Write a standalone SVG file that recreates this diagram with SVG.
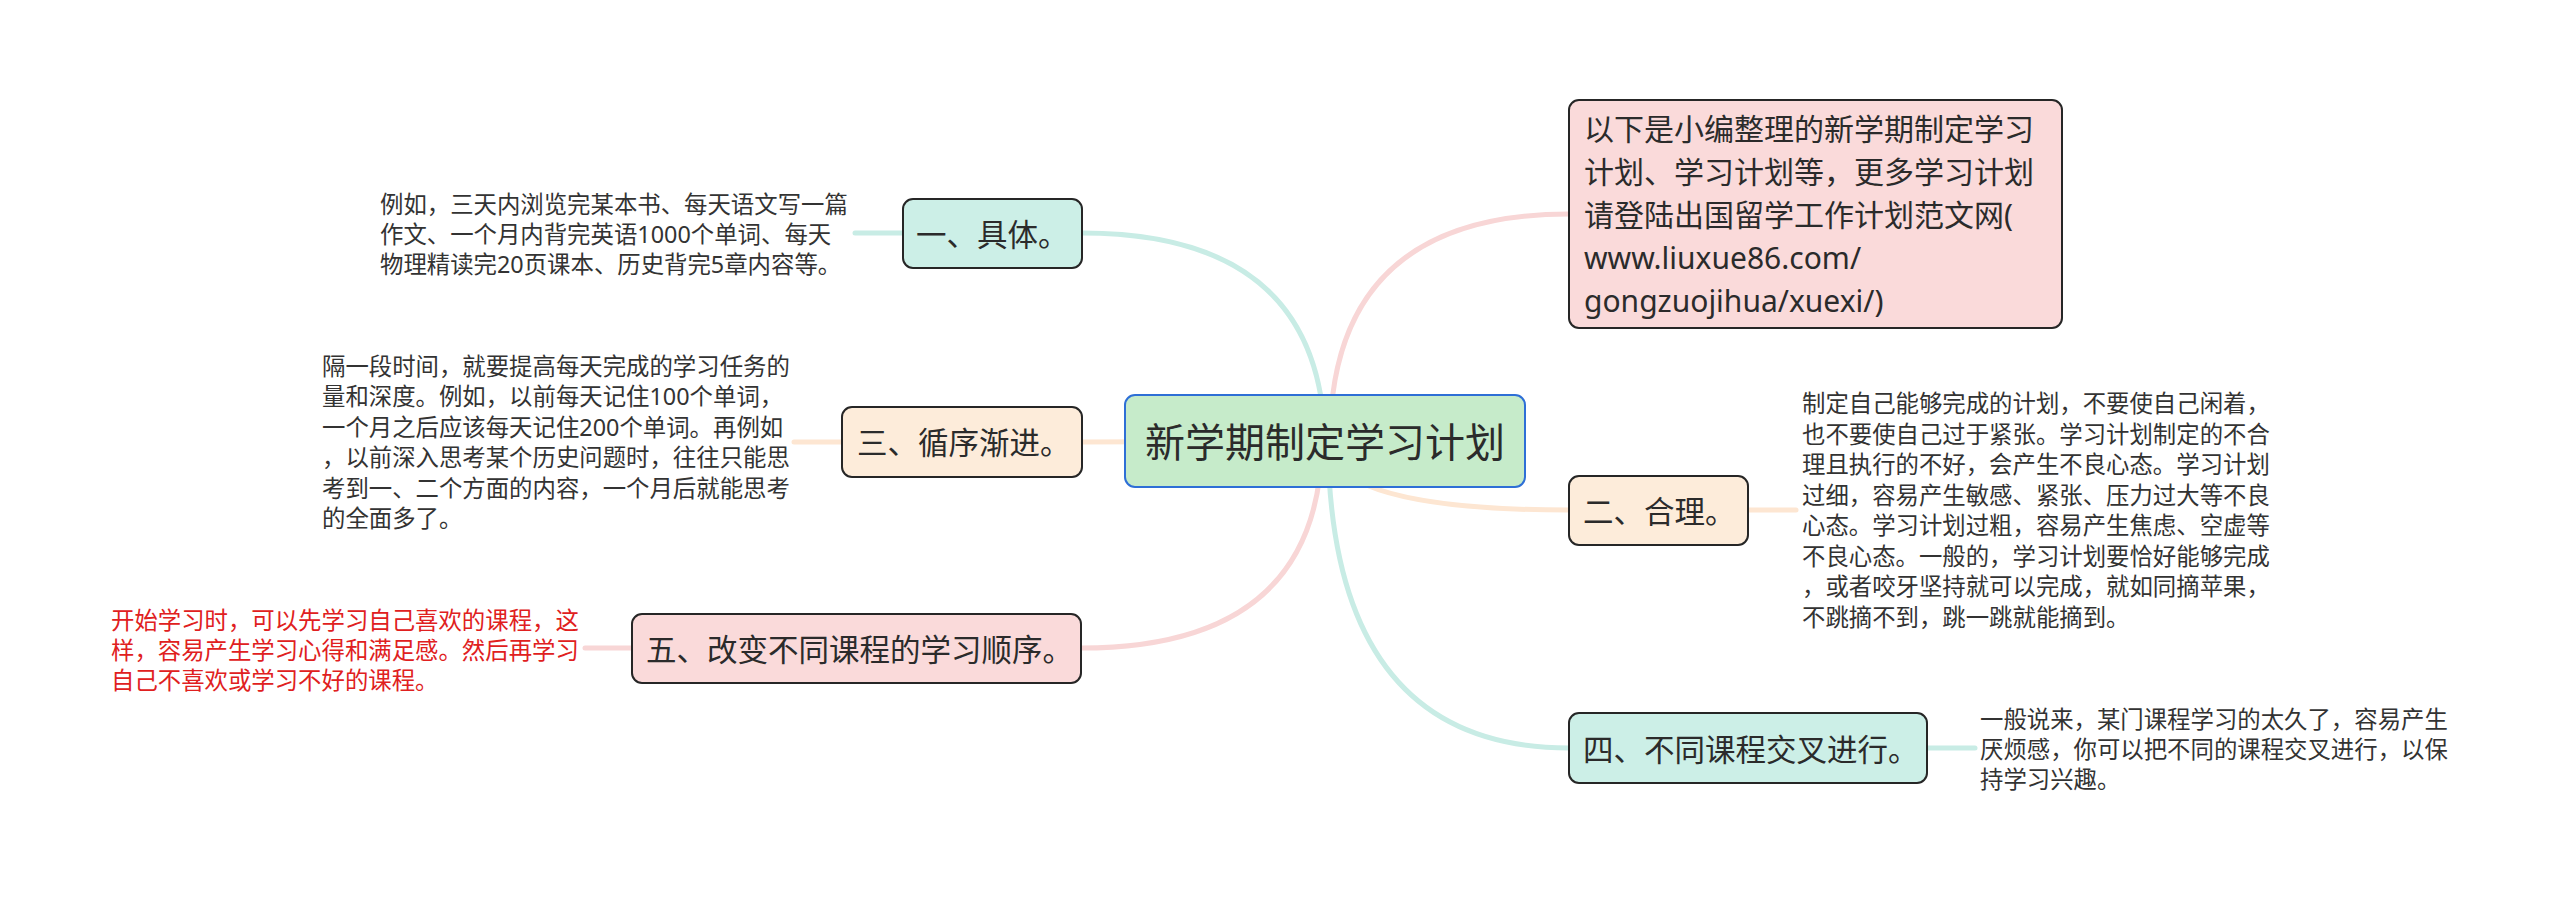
<svg xmlns="http://www.w3.org/2000/svg" width="2560" height="905" viewBox="0 0 2560 905">
<style>
text{font-family:"Noto Sans","Noto Sans CJK SC",sans-serif;dominant-baseline:central;fill:#2b2b2b}
.lbl{font-size:30.5px}
.desc{font-size:23.4px;fill:#333}
.red{fill:#e02020}
.node{stroke:#262626;stroke-width:2}
.teal{stroke:#c8ece5}
.peach{stroke:#fde6d2}
.pink{stroke:#f8d6d6}
#connectors path{fill:none;stroke-width:5;stroke-linecap:round}
</style>
<rect width="2560" height="905" fill="#fff"/>
<g id="connectors">
<path class="teal" d="M1325,441 Q1320,233 1082,233"/>
<path class="pink" d="M1330,441 Q1330,214 1569,214"/>
<path class="peach" d="M1325,441 L1082,442"/>
<path class="peach" d="M1325,441 Q1330,510 1569,510"/>
<path class="pink" d="M1322,441 Q1320,648 1081,648"/>
<path class="teal" d="M1328,441 Q1330,748 1569,748"/>
<path class="teal" d="M903,233 L855,233"/>
<path class="peach" d="M842,442 L794,442"/>
<path class="pink" d="M632,648 L585,648"/>
<path class="peach" d="M1748,510 L1796,510"/>
<path class="teal" d="M1927,748 L1975,748"/>
</g>
<g id="center">
<rect x="1125" y="395" width="400" height="92" rx="10" fill="#c6ebca" stroke="#2e6fd6" stroke-width="2"/>
<text x="1325" y="441" font-size="40" text-anchor="middle">新学期制定学习计划</text>
</g>
<g id="n1">
<rect class="node" x="903" y="199" width="179" height="69" rx="10" fill="#ccefe7"/>
<text class="lbl" x="916" y="234">一、具体。</text>
</g>
<g id="d1">
<text class="desc" x="380" y="204">例如，三天内浏览完某本书、每天语文写一篇</text>
<text class="desc" x="380" y="234">作文、一个月内背完英语1000个单词、每天</text>
<text class="desc" x="380" y="264">物理精读完20页课本、历史背完5章内容等。</text>
</g>
<g id="n3">
<rect class="node" x="842" y="407" width="240" height="70" rx="10" fill="#fdecda"/>
<text class="lbl" x="857" y="442">三、循序渐进。</text>
</g>
<g id="d3">
<text class="desc" x="322" y="366">隔一段时间，就要提高每天完成的学习任务的</text>
<text class="desc" x="322" y="396">量和深度。例如，以前每天记住100个单词，</text>
<text class="desc" x="322" y="427">一个月之后应该每天记住200个单词。再例如</text>
<text class="desc" x="322" y="457">，以前深入思考某个历史问题时，往往只能思</text>
<text class="desc" x="322" y="488">考到一、二个方面的内容，一个月后就能思考</text>
<text class="desc" x="322" y="518">的全面多了。</text>
</g>
<g id="n5">
<rect class="node" x="632" y="614" width="449" height="69" rx="10" fill="#fadada"/>
<text class="lbl" x="646" y="649">五、改变不同课程的学习顺序。</text>
</g>
<g id="d5">
<text class="desc red" x="111" y="620">开始学习时，可以先学习自己喜欢的课程，这</text>
<text class="desc red" x="111" y="650">样，容易产生学习心得和满足感。然后再学习</text>
<text class="desc red" x="111" y="680">自己不喜欢或学习不好的课程。</text>
</g>
<g id="ntop">
<rect class="node" x="1569" y="100" width="493" height="228" rx="10" fill="#fadada"/>
<text x="1584" y="128" font-size="30">以下是小编整理的新学期制定学习</text>
<text x="1584" y="171" font-size="30">计划、学习计划等，更多学习计划</text>
<text x="1584" y="214" font-size="30">请登陆出国留学工作计划范文网(</text>
<text x="1584" y="257" font-size="30">www.liuxue86.com/</text>
<text x="1584" y="300" font-size="30">gongzuojihua/xuexi/)</text>
</g>
<g id="n2">
<rect class="node" x="1569" y="476" width="179" height="69" rx="10" fill="#fdecda"/>
<text class="lbl" x="1583" y="511">二、合理。</text>
</g>
<g id="d2">
<text class="desc" x="1802" y="403">制定自己能够完成的计划，不要使自己闲着，</text>
<text class="desc" x="1802" y="434">也不要使自己过于紧张。学习计划制定的不合</text>
<text class="desc" x="1802" y="464">理且执行的不好，会产生不良心态。学习计划</text>
<text class="desc" x="1802" y="495">过细，容易产生敏感、紧张、压力过大等不良</text>
<text class="desc" x="1802" y="525">心态。学习计划过粗，容易产生焦虑、空虚等</text>
<text class="desc" x="1802" y="556">不良心态。一般的，学习计划要恰好能够完成</text>
<text class="desc" x="1802" y="586">，或者咬牙坚持就可以完成，就如同摘苹果，</text>
<text class="desc" x="1802" y="617">不跳摘不到，跳一跳就能摘到。</text>
</g>
<g id="n4">
<rect class="node" x="1569" y="713" width="358" height="70" rx="10" fill="#ccefe7"/>
<text class="lbl" x="1583" y="749">四、不同课程交叉进行。</text>
</g>
<g id="d4">
<text class="desc" x="1980" y="719">一般说来，某门课程学习的太久了，容易产生</text>
<text class="desc" x="1980" y="749">厌烦感，你可以把不同的课程交叉进行，以保</text>
<text class="desc" x="1980" y="779">持学习兴趣。</text>
</g>
</svg>
